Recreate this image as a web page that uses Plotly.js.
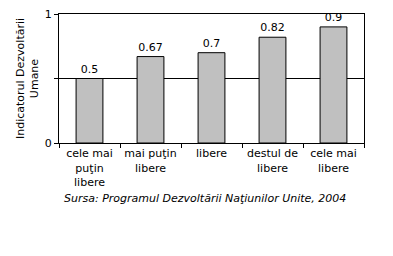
<!DOCTYPE html>
<html><head><meta charset="utf-8">
<script src="https://cdn.plot.ly/plotly-3.0.1.min.js"></script>
<style>html,body{margin:0;padding:0;background:#fff}</style>
</head><body><div id="chart" style="width:393px;height:256px"></div>
<script>
const categories = ["cele mai<br>puţin<br>libere", "mai puţin<br>libere", "libere", "destul de<br>libere", "cele mai<br>libere"];
const values = [0.5, 0.67, 0.7, 0.82, 0.9];
const labels = ["0.5", "0.67", "0.7", "0.82", "0.9"];
const yTickVals = [0, 0.5, 1];
const yTickText = ["0", "", "1"];
const yTitle = "Indicatorul Dezvoltării<br>Umane";
const source = "<i>Sursa: Programul Dezvoltării Naţiunilor Unite, 2004</i>";

const font = "DejaVu Sans, Verdana, sans-serif";
Plotly.newPlot("chart", [{
  type: "bar", x: categories, y: values, text: labels,
  textposition: "outside", cliponaxis: false,
  textfont: {family: font, size: 11, color: "#000"},
  marker: {color: "#c0c0c0", line: {color: "#000", width: 1}},
  width: 0.44, hoverinfo: "none"
}], {
  width: 393, height: 256,
  margin: {l: 59, r: 29, t: 14, b: 113, pad: 0},
  paper_bgcolor: "#fff", plot_bgcolor: "#fff",
  font: {family: font, size: 11, color: "#000"},
  showlegend: false,
  xaxis: {type: "category", showline: true, linecolor: "#000", linewidth: 1, mirror: true,
    ticks: "outside", tickson: "boundaries", ticklen: 4, tickcolor: "#000",
    showgrid: false, tickangle: 0, tickfont: {family: font, size: 11}},
  yaxis: {range: [0, 1], tickvals: yTickVals, ticktext: yTickText, showline: true, linecolor: "#000",
    linewidth: 1, mirror: true, ticks: "outside", ticklen: 4, tickcolor: "#000",
    showgrid: true, gridcolor: "#000", gridwidth: 1, zeroline: false,
    tickfont: {family: font, size: 11},
    title: {text: yTitle, font: {family: font, size: 11}, standoff: 3}},
  annotations: [{text: source, xref: "paper", yref: "paper", x: 0.48, y: -0.43, yanchor: "middle",
    xanchor: "center", showarrow: false, font: {family: font, size: 11, color: "#000"}}]
}, {staticPlot: true, displayModeBar: false});
</script></body></html>
